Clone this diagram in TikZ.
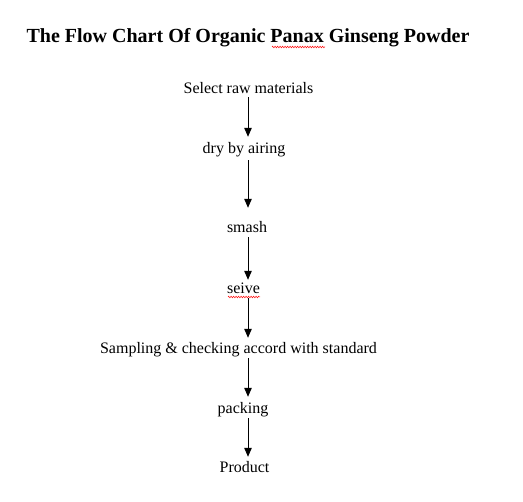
\documentclass[tikz,border=0pt]{standalone}
\usepackage{fontspec}
\setmainfont{Liberation Serif}
\usetikzlibrary{arrows.meta,decorations.pathmorphing}
\begin{document}
\begin{tikzpicture}[x=1pt,y=-1pt,
  lbl/.style={anchor=base,inner sep=0pt,font=\fontsize{16}{19}\selectfont,text height=11pt,text depth=3pt},
  arr/.style={-{Triangle[length=9pt,width=7.5pt]},line width=1pt},
  squig/.style={red,line width=0.5pt,decorate,decoration={zigzag,amplitude=0.8pt,segment length=2.5pt}}]
\fill[white] (0,0) rectangle (523,502);
\useasboundingbox (0,0) rectangle (523,502);
\node[anchor=base,inner sep=0pt,font=\fontsize{20}{24}\selectfont\bfseries] (title) at (248,43) {The Flow Chart Of Organic Panax Ginseng Powder};
\node[lbl] (n1) at (248.5,94) {Select raw materials};
\node[lbl] (n2) at (244,154) {dry by airing};
\node[lbl] (n3) at (247,233) {smash};
\node[lbl] (n4) at (243.5,294) {seive};
\node[lbl] (n5) at (238.5,354) {Sampling \& checking accord with standard};
\node[lbl] (n6) at (243,414) {packing};
\node[lbl] (n7) at (244.5,473) {Product};
\coordinate (ax) at (248,0);
\draw[arr,shorten <=0pt,shorten >=6pt] (n1.south -| ax) -- (n2.north -| ax);
\draw[arr,shorten <=3pt,shorten >=14pt] (n2.south -| ax) -- (n3.north -| ax);
\draw[arr,shorten <=1pt,shorten >=3pt] (n3.south -| ax) -- (n4.north -| ax);
\draw[arr,shorten <=1pt,shorten >=5pt] (n4.south -| ax) -- (n5.north -| ax);
\draw[arr,shorten <=1pt,shorten >=6pt] (n5.south -| ax) -- (n6.north -| ax);
\draw[arr,shorten <=1pt,shorten >=5pt] (n6.south -| ax) -- (n7.north -| ax);
\draw[squig] (272,47) -- (325,47);
\draw[squig] (228,297) -- (260,297);
\end{tikzpicture}
\end{document}
